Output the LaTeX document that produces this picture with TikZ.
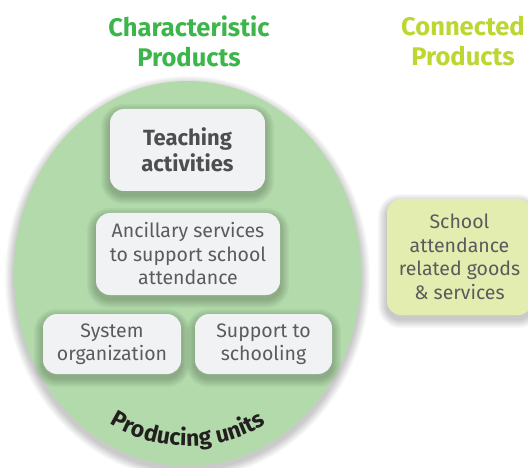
\documentclass[tikz,border=0pt]{standalone}
\usepackage{fontspec}
\setmainfont{Fira Sans}
\usetikzlibrary{decorations.text,shapes.geometric,calc}
\definecolor{ellgreen}{HTML}{B2DAAA}
\definecolor{titlegreen}{HTML}{3CB54A}
\definecolor{connyellow}{HTML}{BED630}
\definecolor{boxfill}{HTML}{F1F2F4}
\definecolor{boxtext}{HTML}{5A5B5D}
\definecolor{boldtext}{HTML}{4D4E50}
\definecolor{rightfill}{HTML}{E3EDB0}
\definecolor{darktext}{HTML}{231F20}
\pgfdeclarelayer{bglayer}
\pgfdeclarelayer{ellshadow}
\pgfdeclarelayer{elllayer}
\pgfdeclarelayer{boxshadow}
\pgfsetlayers{bglayer,ellshadow,elllayer,boxshadow,main}
\tikzset{
  shadowlayer/.style={fill=black, fill opacity=0.022},
  boxnode/.style={rectangle, rounded corners=14pt, fill=boxfill, align=center, text=boxtext, inner sep=0pt,
    font=\fontsize{19.5}{23.5}\selectfont},
  titlenode/.style={align=center, font=\fontsize{25.5}{30}\selectfont\bfseries},
}
\begin{document}
\begin{tikzpicture}[x=1pt,y=-1pt]
\useasboundingbox (0,0) rectangle (528,468);
\begin{pgfonlayer}{bglayer}
\fill[white] (0,0) rectangle (528,468);
\end{pgfonlayer}
% titles
\node[titlenode, text=titlegreen] (chartitle) at (189,41) {Characteristic\\Products};
\node[titlenode, text=connyellow] (conntitle) at (463,41) {Connected\\Products};
% big ellipse
\begin{pgfonlayer}{elllayer}
\node[ellipse, fill=ellgreen, minimum width=347pt, minimum height=385pt, inner sep=0pt] (units) at (187.5,273.5) {};
\end{pgfonlayer}
\begin{pgfonlayer}{ellshadow}
\foreach \k in {1,...,9}
  \fill[shadowlayer] ($(units.center)+(0,4)$) ellipse [x radius={173.5+\k}, y radius={192.5+\k}];
\end{pgfonlayer}
% boxes
\node[boxnode, minimum width=155pt, minimum height=82pt, text=boldtext, font=\fontsize{22}{26}\selectfont\bfseries] (teach) at (187.5,150) {Teaching\\activities};
\node[boxnode, minimum width=184pt, minimum height=82pt] (ancil) at (188,254) {Ancillary services\\to support school\\attendance};
\node[boxnode, minimum width=138pt, minimum height=60pt] (sysorg) at (112,344) {System\\organization};
\node[boxnode, minimum width=137pt, minimum height=60pt] (support) at (263.5,344) {Support to\\schooling};
\node[boxnode, fill=rightfill, minimum width=145pt, minimum height=116pt] (related) at (459.5,257) {School\\attendance\\related goods\\\& services};
\begin{pgfonlayer}{boxshadow}
\foreach \n in {teach,ancil,sysorg,support,related}
  \foreach \k in {1,...,9}
    \fill[shadowlayer, rounded corners={(14+\k)*1pt}] ($(\n.south west)+(-\k,{\k+4})$) rectangle ($(\n.north east)+(\k,{-\k+4})$);
\end{pgfonlayer}
% curved label
\path[decorate, decoration={text along path, text align=center, text color=darktext,
  text={|\fontsize{23}{23}\selectfont\bfseries|Producing units}}]
  (188,296) ++(128:150) arc[start angle=128, end angle=52, radius=150];
\end{tikzpicture}
\end{document}
